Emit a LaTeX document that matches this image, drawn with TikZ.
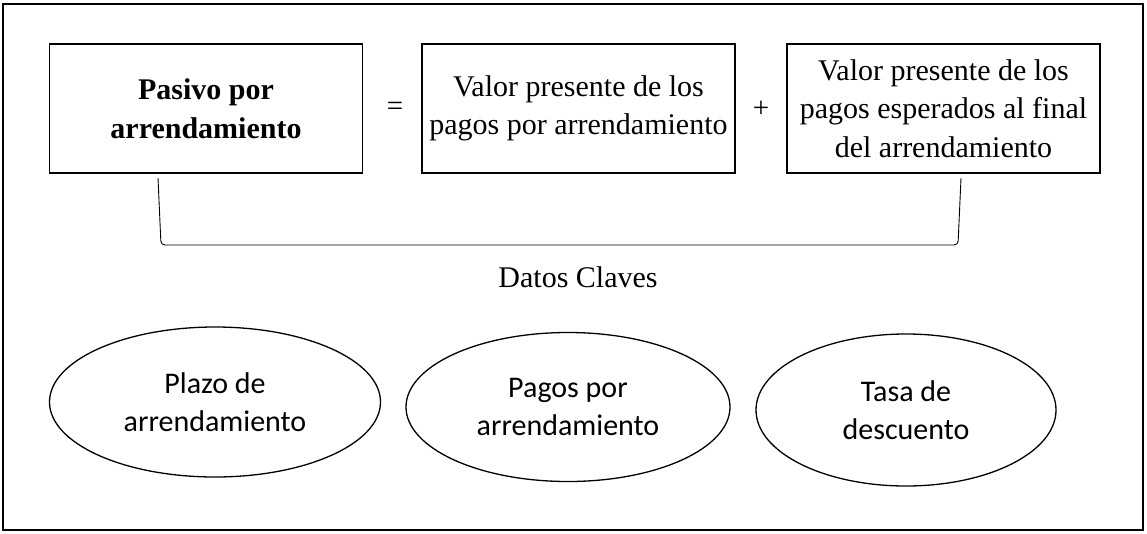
\documentclass[tikz,border=0pt]{standalone}
\usepackage{fontspec}
\setmainfont{Liberation Serif}
\newfontfamily\calib{Carlito}
\usetikzlibrary{shapes.geometric}
\begin{document}
\begin{tikzpicture}[x=1pt,y=-1pt,
  box/.style={draw,line width=1.9pt,minimum width=313pt,minimum height=129pt,inner sep=0pt,align=center,font=\fontsize{30}{38.5}\selectfont},
  oval/.style={draw,ellipse,line width=1.3pt,inner sep=0pt,align=center,font=\calib\fontsize{30}{38}\selectfont},
  op/.style={font=\fontsize{29}{34}\selectfont},
  brace/.style={line width=0.9pt,rounded corners=4pt}]
\useasboundingbox (0,0) rectangle (1147,533);
\draw[line width=1.8pt] (3,4) rectangle (1143,530);
\node[box] (b1) at (206,108.5) {\raisebox{-3pt}{\parbox{300pt}{\centering\textbf{Pasivo por}\\\textbf{arrendamiento}}}};
\node[box] (b2) at (578.5,108.5) {\raisebox{-3pt}{\parbox{300pt}{\centering Valor presente de los\\pagos por arrendamiento}}};
\node[box] (b3) at (943.5,108.5) {\raisebox{-2pt}{\parbox{305pt}{\centering Valor presente de los\\pagos esperados al final\\del arrendamiento}}};
\node[op] (eq) at (395,109) {=};
\node[op] (pl) at (761,109) {+};
\coordinate (bl) at (158,178);
\coordinate (br) at (961,178);
\draw[brace] (bl) -- (161,245) -- (958,245) -- (br);
\node[font=\fontsize{30}{34}\selectfont] (dc) at (578,277) {Datos Claves};
\node[oval,minimum width=331pt,minimum height=150pt] (e1) at (215,402) {Plazo de\\arrendamiento};
\node[oval,minimum width=324pt,minimum height=149pt] (e2) at (568,407) {Pagos por\\arrendamiento};
\node[oval,minimum width=300pt,minimum height=152pt] (e3) at (906,410) {Tasa de\\descuento};
\end{tikzpicture}
\end{document}
